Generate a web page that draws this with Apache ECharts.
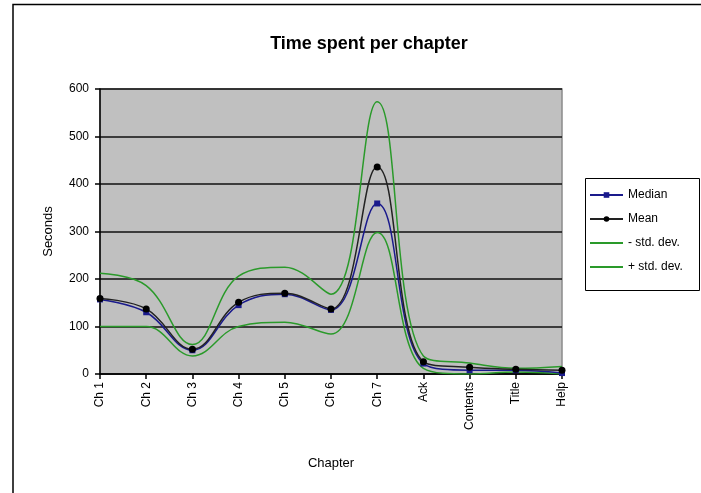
<!DOCTYPE html>
<html>
<head>
<meta charset="utf-8">
<script src="https://cdn.jsdelivr.net/npm/echarts@6/dist/echarts.min.js"></script>
<style>
  html, body { margin: 0; padding: 0; background: #fff; }
  #chart { width: 701px; height: 493px; }
</style>
</head>
<body>
<div id="chart"></div>
<script>
// Chapters of the document
const chapters = ['Ch 1', 'Ch 2', 'Ch 3', 'Ch 4', 'Ch 5', 'Ch 6', 'Ch 7', 'Ack', 'Contents', 'Title', 'Help'];

// Time spent (seconds)
const medianSecs = [157, 130, 50, 145, 168, 135, 359, 22, 8, 8, 2];
const meanSecs   = [159, 137, 52, 151, 170, 137, 436, 26, 14, 10, 8];
const minusStd   = [100, 100, 38, 100, 109, 84, 298, 12, 0, 4, 0];
const plusStd    = [212, 186, 62, 206, 225, 168, 573, 38, 23, 12, 16];

const yTicks = { min: 0, max: 600, step: 100 };

const chart = echarts.init(document.getElementById('chart'), null, { renderer: 'canvas' });

const font = 'Liberation Sans, Arial, sans-serif';
const green = '#2a9a2a';

chart.setOption({
  backgroundColor: '#fff',
  animation: false,
  title: {
    text: 'Time spent per chapter',
    left: 364,
    textAlign: 'center',
    top: 30,
    textStyle: { fontFamily: font, fontWeight: 'bold', fontSize: 18, color: '#000' }
  },
  graphic: [
    {
      type: 'polyline',
      shape: { points: [[13, 493], [13, 4.5], [701, 4.5]] },
      style: { stroke: '#000', lineWidth: 1.5, fill: null },
      silent: true
    },
    {
      // legend frame
      type: 'rect',
      shape: { x: 585.5, y: 178.5, width: 114, height: 112 },
      style: { stroke: '#000', lineWidth: 1, fill: '#fff' },
      silent: true,
      z: -1
    }
  ],
  legend: {
    orient: 'vertical',
    left: 589,
    top: 189,
    padding: 0,
    itemGap: 12,
    itemWidth: 33,
    itemHeight: 7,
    textStyle: { fontFamily: font, fontSize: 12, color: '#000' },
    data: [
      { name: 'Median' },
      { name: 'Mean' },
      { name: '- std. dev.', itemStyle: { opacity: 0 } },
      { name: '+ std. dev.', itemStyle: { opacity: 0 } }
    ]
  },
  grid: {
    left: 100, right: 139, top: 89, bottom: 119,
    show: true,
    backgroundColor: '#c0c0c0',
    borderColor: '#8a8a8a',
    borderWidth: 1.5
  },
  xAxis: {
    type: 'category',
    data: chapters,
    boundaryGap: false,
    name: 'Chapter',
    nameLocation: 'middle',
    nameGap: 83,
    nameTextStyle: { fontFamily: font, fontSize: 13, color: '#000' },
    axisLine: { lineStyle: { color: '#000', width: 1.5 } },
    axisTick: { show: true, length: 5, lineStyle: { color: '#000', width: 1.5 } },
    axisLabel: {
      rotate: 90,
      margin: 8,
      fontFamily: font,
      fontSize: 12,
      color: '#000',
      interval: 0
    },
    splitLine: { show: false }
  },
  yAxis: {
    type: 'value',
    min: yTicks.min,
    max: yTicks.max,
    interval: yTicks.step,
    name: 'Seconds',
    nameLocation: 'middle',
    nameGap: 45,
    nameTextStyle: { fontFamily: font, fontSize: 13, color: '#000' },
    axisLine: { show: true, lineStyle: { color: '#000', width: 1.5 } },
    axisTick: { show: true, length: 5, lineStyle: { color: '#000', width: 1.5 } },
    axisLabel: { margin: 11, fontFamily: font, fontSize: 12, color: '#000' },
    splitLine: { show: true, lineStyle: { color: '#111', width: 1.5 } }
  },
  series: [
    {
      name: '- std. dev.', type: 'line', data: minusStd, smooth: 0.4,
      symbol: 'none', lineStyle: { color: green, width: 1.5 },
      itemStyle: { color: green }, z: 2
    },
    {
      name: '+ std. dev.', type: 'line', data: plusStd, smooth: 0.4,
      symbol: 'none', lineStyle: { color: green, width: 1.5 },
      itemStyle: { color: green }, z: 2
    },
    {
      name: 'Median', type: 'line', data: medianSecs, smooth: 0.4,
      symbol: 'rect', symbolSize: 6,
      lineStyle: { color: '#1a1a8c', width: 1.5 },
      itemStyle: { color: '#1a1a8c' }, z: 3
    },
    {
      name: 'Mean', type: 'line', data: meanSecs, smooth: 0.4,
      symbol: 'circle', symbolSize: 7,
      lineStyle: { color: '#222', width: 1.5 },
      itemStyle: { color: '#000' }, z: 4
    }
  ]
});
</script>
</body>
</html>
